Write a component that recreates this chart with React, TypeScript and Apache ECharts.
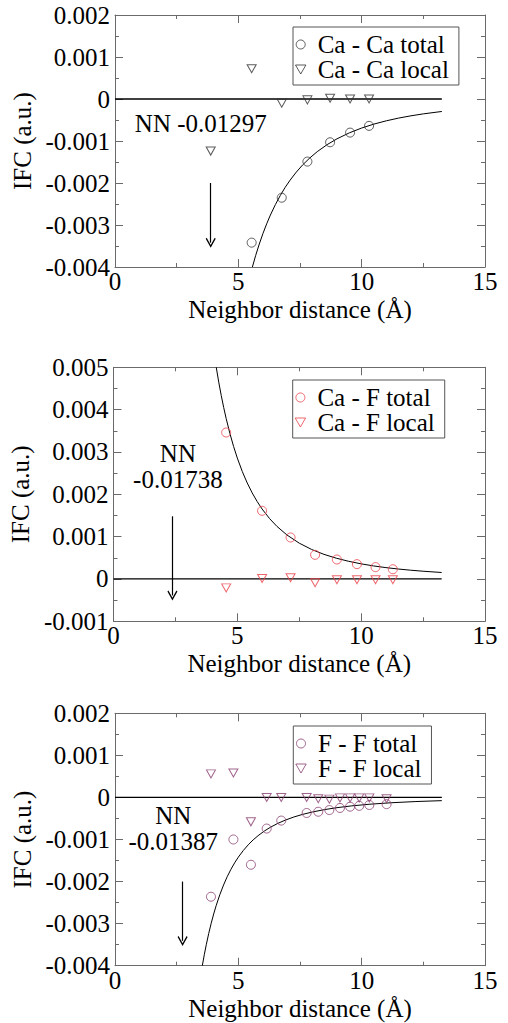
import React, { useEffect, useRef } from "react";
import * as echarts from "echarts";

// ---------- data ----------
// Panel 1: Ca - Ca
const caCaTotalDist = [5.54, 6.76, 7.8, 8.72, 9.53, 10.3];
const caCaTotal = [-0.00342, -0.00235, -0.00149, -0.00103, -0.0008, -0.00064];
const caCaLocalDist = [3.88, 5.54, 6.76, 7.8, 8.72, 9.53, 10.3];
const caCaLocal = [-0.00124, 0.00072, -0.0001, -0.00002, 0.00002, 0.0, 0.0];
const caCaFitX = [5.57, 5.7, 5.85, 6.0, 6.15, 6.3, 6.5, 6.7, 6.9, 7.1, 7.35, 7.6, 7.9, 8.2, 8.6, 9.0, 9.5, 10.0, 10.5, 11.0, 11.5, 12.0, 12.5, 13.25];
const caCaFitY = [-0.004, -0.003731, -0.003452, -0.003199, -0.002971, -0.002763, -0.002516, -0.002298, -0.002103, -0.001931, -0.00174, -0.001574, -0.001402, -0.001253, -0.001086, -0.000948, -0.000806, -0.000691, -0.000597, -0.000519, -0.000454, -0.0004, -0.000354, -0.000297];

// Panel 2: Ca - F
const caFDist = [4.55, 6.0, 7.15, 8.14, 9.02, 9.83, 10.58, 11.28];
const caFTotal = [0.00346, 0.00161, 0.00098, 0.00057, 0.00046, 0.00035, 0.00028, 0.00023];
const caFLocal = [-0.00021, 0.00001, 0.00003, -0.00009, -0.00002, -0.00002, -0.00002, -0.00002];
const caFFitX = [4.15, 4.25, 4.35, 4.45, 4.55, 4.7, 4.85, 5.0, 5.2, 5.4, 5.6, 5.8, 6.0, 6.3, 6.6, 7.0, 7.5, 8.0, 8.5, 9.0, 9.5, 10.0, 10.5, 11.0, 11.5, 12.0, 12.5, 13.25];
const caFFitY = [0.005, 0.00465, 0.004337, 0.004051, 0.00379, 0.003439, 0.003129, 0.002856, 0.002539, 0.002267, 0.002033, 0.00183, 0.001653, 0.001428, 0.001242, 0.001041, 0.000846, 0.000697, 0.000581, 0.00049, 0.000417, 0.000357, 0.000308, 0.000268, 0.000235, 0.000207, 0.000183, 0.000153];

// Panel 3: F - F
const fFDist = [3.89, 4.8, 5.51, 6.15, 6.74, 7.77, 8.24, 8.69, 9.12, 9.53, 9.9, 10.31, 11.01];
const fFTotal = [-0.00236, -0.001, -0.0016, -0.00074, -0.00055, -0.00037, -0.00034, -0.0003, -0.00025, -0.00022, -0.0002, -0.00018, -0.00016];
const fFLocal = [0.00056, 0.00058, -0.00058, 0.0, 0.0, 0.0, -0.00003, -0.00004, -0.00001, -0.00001, -0.00001, -0.00001, -0.00003];
const fFFitX = [3.54, 3.62, 3.7, 3.8, 3.9, 4.0, 4.1, 4.25, 4.4, 4.55, 4.7, 4.85, 5.0, 5.2, 5.4, 5.6, 5.8, 6.05, 6.3, 6.6, 6.9, 7.25, 7.6, 8.0, 8.5, 9.0, 9.6, 10.3, 11.2, 12.2, 13.25];
const fFFitY = [-0.004, -0.00374, -0.003502, -0.003233, -0.002991, -0.002772, -0.002574, -0.002311, -0.002083, -0.001883, -0.001709, -0.001555, -0.001419, -0.001262, -0.001127, -0.00101, -0.000909, -0.000801, -0.000709, -0.000617, -0.00054, -0.0004655, -0.000404, -0.0003465, -0.000289, -0.0002433, -0.0002005, -0.0001624, -0.0001263, -0.0000977, -0.0000763];

const xTicks = [0, 5, 10, 15];
const zeroLineEnd = 13.25;

// ---------- style ----------
const FONT = "'Liberation Serif', 'DejaVu Serif', serif";
const FRAME = "#6a6a6a";
const DOWN_TRI = "path://M0,0L10,0L5,8.66Z";
const CHEVRON = "path://M5,0L10,8.6L9,9.6L5,2.6L1,9.6L0,8.6Z";

const zip = (xs: number[], ys: number[]) => xs.map((x, i) => [x, ys[i]]);

function axesFor(gi: number, ymin: number, ymax: number, yNameGap: number) {
  const tick = { show: true, inside: true, length: 8, lineStyle: { color: FRAME, width: 1 } };
  const minor = { show: true, splitNumber: 2, length: 4, lineStyle: { color: FRAME, width: 1 } };
  const line = { show: true, onZero: false, lineStyle: { color: FRAME, width: 1 } };
  const label = { color: "#000", fontSize: 25, fontFamily: FONT };
  const xs = [
    {
      gridIndex: gi, type: "value", position: "bottom",
      min: xTicks[0], max: xTicks[xTicks.length - 1], interval: 5,
      axisLine: line, axisTick: tick, minorTick: minor, splitLine: { show: false },
      axisLabel: { ...label, margin: 2 },
      name: "Neighbor distance (Å)", nameLocation: "middle", nameGap: 30,
      nameTextStyle: { ...label },
    },
    {
      gridIndex: gi, type: "value", position: "top",
      min: xTicks[0], max: xTicks[xTicks.length - 1], interval: 5,
      axisLine: line, axisTick: tick, minorTick: minor, splitLine: { show: false },
      axisLabel: { show: false },
    },
  ];
  const ys = [
    {
      gridIndex: gi, type: "value", position: "left",
      min: ymin, max: ymax, interval: 0.001,
      axisLine: line, axisTick: tick, minorTick: minor, splitLine: { show: false },
      axisLabel: {
        ...label, margin: 5,
        formatter: (v: number) => (Math.abs(v) < 1e-9 ? "0" : v.toFixed(3)),
      },
      name: "IFC (a.u.)", nameLocation: "middle", nameGap: yNameGap,
      nameTextStyle: { ...label },
    },
    {
      gridIndex: gi, type: "value", position: "right",
      min: ymin, max: ymax, interval: 0.001,
      axisLine: line, axisTick: tick, minorTick: minor, splitLine: { show: false },
      axisLabel: { show: false },
    },
  ];
  return { xs, ys };
}

function legendFor(left: number, top: number, names: string[]) {
  return {
    left, top, orient: "vertical", itemGap: 0, itemWidth: 24, itemHeight: 9,
    padding: [5, 10, 3, 2], borderColor: "#555", borderWidth: 1,
    selectedMode: false,
    itemStyle: { color: "transparent", borderWidth: 1 },
    textStyle: { fontSize: 25, fontFamily: FONT, color: "#000", lineHeight: 21 },
    data: names,
  };
}

function panelSeries(
  axisIdx: number, color: string,
  totalName: string, totalPts: number[][],
  localName: string, localPts: number[][],
  fit: number[][],
  arrowX: number, arrowY1: number, arrowY2: number,
  nnText: string, nnX: number, nnY: number
) {
  const ax = { xAxisIndex: axisIdx * 2, yAxisIndex: axisIdx * 2 };
  return [
    {
      type: "line", ...ax, name: "zero" + axisIdx, data: [[0, 0], [zeroLineEnd, 0]],
      symbol: "none", lineStyle: { color: "#000", width: 1.3 }, silent: true, z: 2,
      markLine: {
        silent: true, symbol: ["none", CHEVRON], symbolSize: 10,
        label: { show: false },
        lineStyle: { color: "#000", width: 1.2, type: "solid" },
        data: [[{ coord: [arrowX, arrowY1] }, { coord: [arrowX, arrowY2] }]],
      },
      markPoint: {
        silent: true, symbol: "circle", symbolSize: 1,
        itemStyle: { color: "transparent" },
        data: [{
          coord: [nnX, nnY],
          label: {
            show: true, position: "inside", formatter: nnText, align: "center",
            verticalAlign: "middle", color: "#000", fontSize: 25, fontFamily: FONT, lineHeight: 26,
          },
        }],
      },
    },
    {
      type: "line", ...ax, name: "fit" + axisIdx, data: fit, symbol: "none", smooth: false,
      lineStyle: { color: "#000", width: 1 }, silent: true, z: 2,
    },
    {
      type: "scatter", ...ax, name: totalName, data: totalPts, symbol: "circle", symbolSize: 9,
      itemStyle: { color: "transparent", borderColor: color, borderWidth: 1 }, z: 3,
    },
    {
      type: "scatter", ...ax, name: localName, data: localPts, symbol: DOWN_TRI, symbolSize: [9, 8],
      itemStyle: { color: "transparent", borderColor: color, borderWidth: 1 }, z: 3,
    },
  ];
}

export default function App() {
  const ref = useRef<HTMLDivElement>(null);
  useEffect(() => {
    if (!ref.current) return;
    const chart = echarts.init(ref.current, undefined, { renderer: "svg" });
    const a0 = axesFor(0, -0.004, 0.002, 70);
    const a1 = axesFor(1, -0.001, 0.005, 68);
    const a2 = axesFor(2, -0.004, 0.002, 70);
    const GRAY = "#333";
    const RED = "#e8414a";
    const PURPLE = "#8a3f70";
    chart.setOption({
      animation: false,
      backgroundColor: "#fff",
      grid: [
        { left: 115, top: 15, width: 370, height: 252 },
        { left: 113.3, top: 367.3, width: 371.7, height: 254 },
        { left: 115, top: 713.3, width: 370, height: 252.4 },
      ],
      xAxis: [...a0.xs, ...a1.xs, ...a2.xs],
      yAxis: [...a0.ys, ...a1.ys, ...a2.ys],
      legend: [
        legendFor(293, 27, ["Ca - Ca total", "Ca - Ca local"]),
        legendFor(292.7, 380, ["Ca - F total", "Ca - F local"]),
        legendFor(293.3, 726, ["F - F total", "F - F local"]),
      ],
      series: [
        ...panelSeries(0, GRAY, "Ca - Ca total", zip(caCaTotalDist, caCaTotal),
          "Ca - Ca local", zip(caCaLocalDist, caCaLocal), zip(caCaFitX, caCaFitY),
          3.88, -0.002, -0.00342, "NN -0.01297", 3.48, -0.00058),
        ...panelSeries(1, RED, "Ca - F total", zip(caFDist, caFTotal),
          "Ca - F local", zip(caFDist, caFLocal), zip(caFFitX, caFFitY),
          2.38, 0.00148, -0.00039, "NN\n-0.01738", 2.6, 0.00265),
        ...panelSeries(2, PURPLE, "F - F total", zip(fFDist, fFTotal),
          "F - F local", zip(fFDist, fFLocal), zip(fFFitX, fFFitY),
          2.74, -0.002, -0.00341, "NN\n-0.01387", 2.36, -0.00073),
      ],
    });
    return () => chart.dispose();
  }, []);
  return (
    <div
      ref={ref}
      style={{ position: "fixed", left: 0, top: 0, width: 508, height: 1023, background: "#fff" }}
    />
  );
}
